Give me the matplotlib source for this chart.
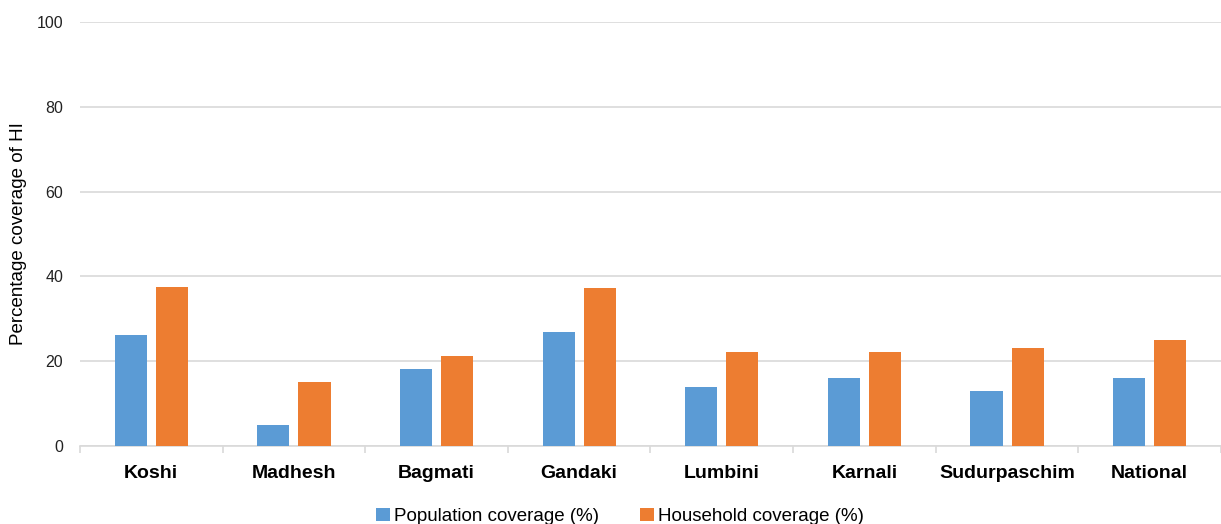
import matplotlib.pyplot as plt
import numpy as np

plt.rcParams['font.family'] = ['Liberation Sans', 'DejaVu Sans']

# Data
regions = ["Koshi", "Madhesh", "Bagmati", "Gandaki", "Lumbini", "Karnali", "Sudurpaschim", "National"]
population = [26.2, 5.0, 18.2, 26.9, 13.8, 16.0, 13.0, 16.0]
household = [37.4, 15.1, 21.2, 37.3, 22.1, 22.1, 23.0, 25.1]

blue = '#5b9bd5'
orange = '#ed7d31'

fig = plt.figure(figsize=(12.21, 5.24), dpi=100)
ax = fig.add_axes([0.0655, 0.149, 0.9345, 0.809])

x = np.arange(len(regions))
w = 0.225
off = 0.144
ax.bar(x - off, population, w, color=blue, label='Population coverage (%)', zorder=3)
ax.bar(x + off, household, w, color=orange, label='Household coverage (%)', zorder=3)

ax.set_xlim(-0.5, len(regions) - 0.5)
ax.set_ylim(0, 100)
ax.set_yticks(range(0, 101, 20))
ax.grid(axis='y', color='#d9d9d9', linewidth=1.2, zorder=0)

# category labels, tick marks between categories
ax.set_xticks(x)
ax.set_xticklabels(regions, fontsize=14, fontweight='bold')
ax.tick_params(axis='x', length=0, pad=14)
ax.set_xticks(np.arange(-0.5, len(regions), 1), minor=True)
ax.tick_params(axis='x', which='minor', length=5, color='#d9d9d9', width=1.2)
ax.tick_params(axis='y', length=0, labelsize=11.5, pad=12, labelcolor='#222222')

for s in ['top', 'right', 'left']:
    ax.spines[s].set_visible(False)
ax.spines['bottom'].set_color('#d9d9d9')
ax.spines['bottom'].set_linewidth(1.2)

ax.set_ylabel('Percentage coverage of HI', fontsize=13.5)
ax.yaxis.set_label_coords(-0.046, 0.5)

fig.legend(loc='lower center', bbox_to_anchor=(0.508, -0.035), ncol=2, frameon=False,
           fontsize=13.5, handlelength=0.7, handleheight=0.7, handletextpad=0.25,
           columnspacing=2.2)

fig.savefig('out.png', dpi=100)
